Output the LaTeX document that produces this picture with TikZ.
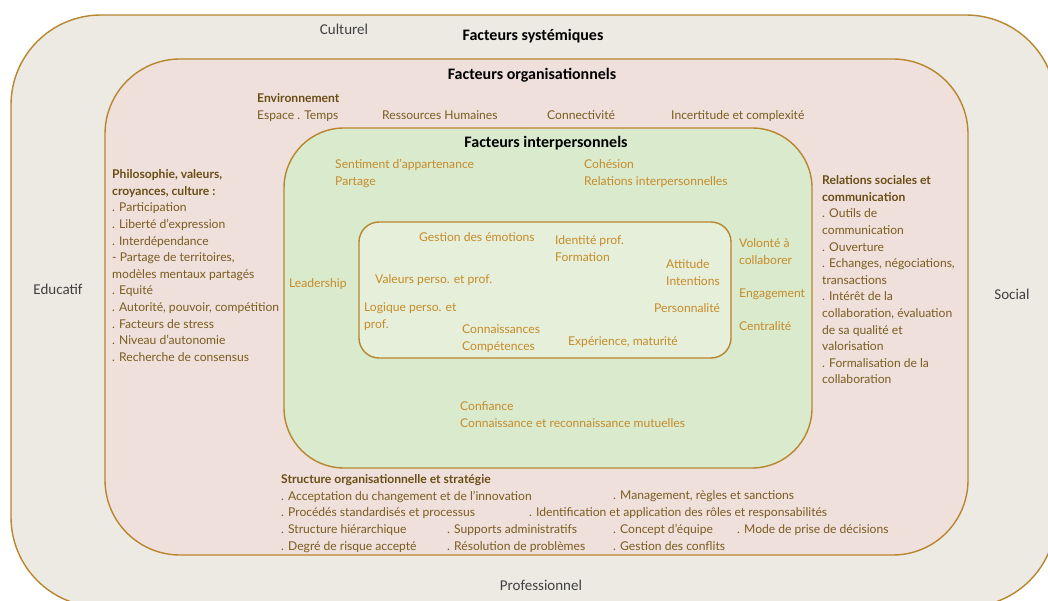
\documentclass[tikz,border=0pt]{standalone}
\usepackage{fontspec}
\setmainfont{Lato}
\newfontfamily\hfont{Carlito}
\definecolor{bord}{HTML}{B8862E}
\definecolor{outerfill}{HTML}{EDEAE4}
\definecolor{orgfill}{HTML}{EFE0DC}
\definecolor{interfill}{HTML}{D9EACD}
\definecolor{innerfill}{HTML}{E5EFD9}
\definecolor{obrown}{HTML}{7A5C1F}
\definecolor{ohead}{HTML}{6A4D14}
\definecolor{iorange}{HTML}{C68B29}
\definecolor{dgray}{HTML}{404040}
\tikzset{
  layer/.style={draw=bord, line width=1.4pt},
  otext/.style={text=obrown, font=\fontsize{12.1}{16.6}\selectfont, anchor=north west, inner sep=0pt, align=left, yshift=-2.5pt},
  itext/.style={text=iorange, font=\fontsize{12.1}{16.6}\selectfont, anchor=north west, inner sep=0pt, align=left, yshift=-2.5pt},
  title/.style={text=black, font=\hfont\bfseries\fontsize{16}{19}\selectfont, inner sep=0pt},
  outlabel/.style={text=dgray, font=\hfont\fontsize{15}{18}\selectfont, inner sep=0pt},
}
\begin{document}
\begin{tikzpicture}[x=1pt,y=-1pt]
\useasboundingbox (0,0) rectangle (1048,601);
\begin{scope}
\clip (0,0) rectangle (1048,601);
\draw[layer, fill=outerfill, rounded corners=90pt] (11,15) rectangle (1056,607);
\end{scope}
\draw[layer, fill=orgfill, rounded corners=75pt] (105,59) rectangle (968,555);
\draw[layer, fill=interfill, rounded corners=60pt] (284,128) rectangle (812,468);
\draw[layer, fill=innerfill, rounded corners=20pt] (359,222) rectangle (731,358);

% outer labels and titles
\node[title] (tsys) at (533,36) {Facteurs systémiques};
\node[outlabel] (cult) at (344,29) {Culturel};
\node[outlabel] (educ) at (58,289) {Educatif};
\node[outlabel] (soc) at (1012,294) {Social};
\node[outlabel] (prof) at (541,585) {Professionnel};
\node[title] (torg) at (532,75) {Facteurs organisationnels};
\node[title] (tint) at (546,143) {Facteurs interpersonnels};

% organisational factors
\node[otext] (env) at (257,91) {\textbf{\color{ohead}Environnement}\\Espace . Temps};
\node[otext] (rh) at (382,108) {Ressources Humaines};
\node[otext] (conn) at (547,108) {Connectivité};
\node[otext] (inc) at (671,108) {Incertitude et complexité};
\node[otext] (philo) at (112,167) {\textbf{\color{ohead}Philosophie, valeurs,}\\\textbf{\color{ohead}croyances, culture :}\\
. Participation\\. Liberté d'expression\\. Interdépendance\\- Partage de territoires,\\modèles mentaux partagés\\
. Equité\\. Autorité, pouvoir, compétition\\. Facteurs de stress\\. Niveau d'autonomie\\. Recherche de consensus};
\node[otext] (rel) at (822,173) {\textbf{\color{ohead}Relations sociales et}\\\textbf{\color{ohead}communication}\\
. Outils de\\communication\\. Ouverture\\. Echanges, négociations,\\transactions\\. Intérêt de la\\
collaboration, évaluation\\de sa qualité et\\valorisation\\. Formalisation de la\\collaboration};
\node[otext] (struct) at (281,472) {\textbf{\color{ohead}Structure organisationnelle et stratégie}\\
. Acceptation du changement et de l'innovation\\. Procédés standardisés et processus\\
. Structure hiérarchique\\. Degré de risque accepté};
\node[otext] (mgmt) at (613,488) {. Management, règles et sanctions};
\node[otext] (ident) at (529,505) {. Identification et application des rôles et responsabilités};
\node[otext] (supp) at (447,522) {. Supports administratifs\\. Résolution de problèmes};
\node[otext] (conc) at (613,522) {. Concept d'équipe\\. Gestion des conflits};
\node[otext] (mode) at (737,522) {. Mode de prise de décisions};

% interpersonal factors
\node[itext] (sent) at (335,157) {Sentiment d’appartenance\\Partage};
\node[itext] (coh) at (584,157) {Cohésion\\Relations interpersonnelles};
\node[itext] (lead) at (289,276) {Leadership};
\node[itext] (vol) at (739,236) {Volonté à\\collaborer};
\node[itext] (eng) at (739,286) {Engagement};
\node[itext] (cent) at (739,319) {Centralité};
\node[itext] (conf) at (460,399) {Confiance\\Connaissance et reconnaissance mutuelles};

% inner box
\node[itext] (gest) at (419,230) {Gestion des émotions};
\node[itext] (iden) at (555,233) {Identité prof.\\Formation};
\node[itext] (att) at (666,257) {Attitude\\Intentions};
\node[itext] (val) at (375,272) {Valeurs perso. et prof.};
\node[itext] (log) at (364,300) {Logique perso. et\\prof.};
\node[itext] (pers) at (654,301) {Personnalité};
\node[itext] (conn2) at (462,322) {Connaissances\\Compétences};
\node[itext] (exp) at (568,334) {Expérience, maturité};
\end{tikzpicture}
\end{document}
